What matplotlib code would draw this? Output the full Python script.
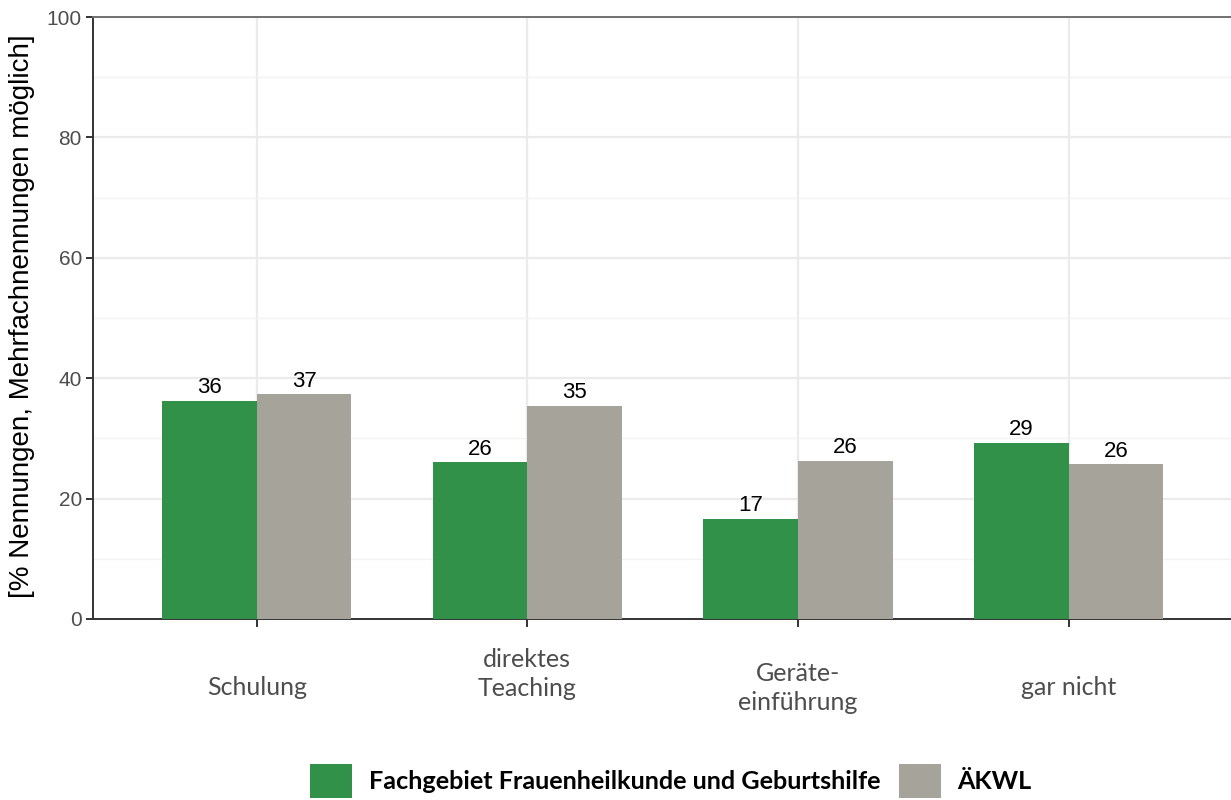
import matplotlib.pyplot as plt
import numpy as np
from matplotlib.patches import Patch
from matplotlib.transforms import blended_transform_factory

# data
categories = ["Schulung", "direktes\nTeaching", "Geräte-\neinführung", "gar nicht"]
fach = [36.2, 26.0, 16.6, 29.3]
aekwl = [37.3, 35.4, 26.3, 25.7]
series_names = ["Fachgebiet Frauenheilkunde und Geburtshilfe", "ÄKWL"]

green = "#319148"
grey = "#a6a39b"

fig = plt.figure(figsize=(12.31, 8), dpi=100)
ax = fig.add_axes([93 / 1231, 1 - 619 / 800, 1 - 93 / 1231, 602 / 800])

x = np.arange(len(categories))
w = 0.35
b1 = ax.bar(x - w / 2, fach, w, color=green, zorder=3)
b2 = ax.bar(x + w / 2, aekwl, w, color=grey, zorder=3)

for bars in (b1, b2):
    for r in bars:
        v = r.get_height()
        ax.annotate("%d" % round(v), (r.get_x() + r.get_width() / 2, v),
                    xytext=(0, 2), textcoords="offset points",
                    ha="center", va="bottom", fontsize=16,
                    family="Liberation Sans", color="black", zorder=4)

ax.set_xlim(-0.605, 3.6)
ax.set_ylim(0, 100)
ax.set_yticks(range(0, 101, 20))
ax.set_yticks(range(10, 100, 20), minor=True)
ax.set_xticks(x)
ax.set_xticklabels([""] * len(categories))

# grid
ax.grid(True, which="major", color="#ebebeb", lw=1.6, zorder=0)
ax.grid(True, which="minor", axis="y", color="#f3f3f3", lw=1.0, zorder=0)
ax.set_axisbelow(True)

ax.spines["right"].set_visible(False)
ax.spines["left"].set_color("#333333")
ax.spines["bottom"].set_color("#333333")
ax.spines["left"].set_linewidth(1.4)
ax.spines["bottom"].set_linewidth(1.4)
ax.spines["top"].set_color("#707070")
ax.spines["top"].set_linewidth(1.4)

ax.tick_params(axis="y", which="major", length=5, width=1.4, color="#333333",
               labelsize=15, labelcolor="#4d4d4d", pad=3)
ax.tick_params(axis="y", which="minor", length=0)
ax.tick_params(axis="x", length=6, width=1.4, color="#333333")
for lab in ax.get_yticklabels():
    lab.set_family("Liberation Sans")

# category labels, vertically placed as in the reference
trans = blended_transform_factory(ax.transData, ax.transAxes)
label_y = [-0.1146, -0.0914, -0.1146, -0.1146]
for xi, lab, yy in zip(x, categories, label_y):
    ax.text(xi, yy, lab, transform=trans, ha="center", va="center",
            fontsize=18, family="Lato", color="#4d4d4d", linespacing=1.3)

fig.text(22 / 1231, 1 - 316 / 800, "[% Nennungen, Mehrfachnennungen möglich]",
         rotation=90, ha="center", va="center", fontsize=20,
         family="Liberation Sans", color="black")

handles = [Patch(facecolor=green), Patch(facecolor=grey)]
leg = fig.legend(handles, series_names, loc="center", bbox_to_anchor=(0.545, 0.024),
                 ncol=2, frameon=False, handlelength=1.65, handleheight=1.7,
                 handletextpad=0.65, columnspacing=0.75,
                 prop={"family": "Lato", "weight": "bold", "size": 18.2})

fig.savefig("out.png", dpi=100)
